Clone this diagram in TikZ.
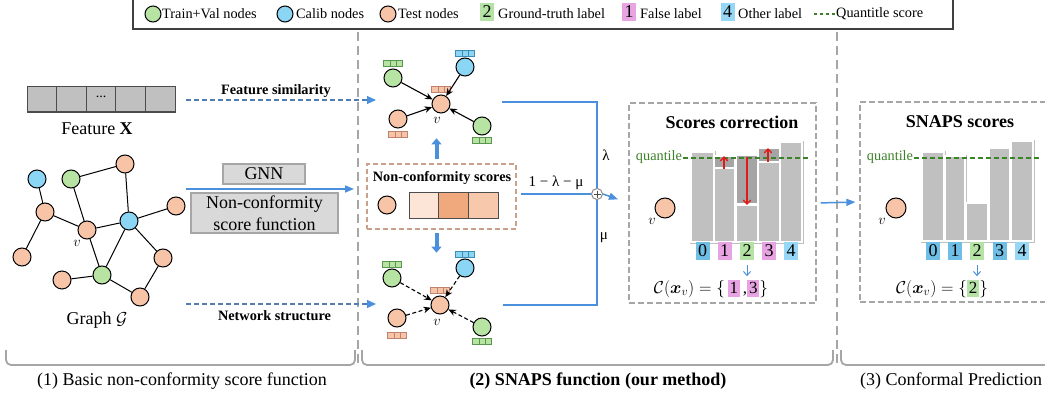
\documentclass[tikz,border=0pt]{standalone}
\usepackage{amsmath,bm}
\usepackage{fontspec}
\setmainfont{Liberation Serif}
\usetikzlibrary{arrows.meta,calc}
\definecolor{gnode}{RGB}{183,228,163}
\definecolor{bnode}{RGB}{140,214,245}
\definecolor{onode}{RGB}{248,196,168}
\definecolor{glab}{RGB}{181,227,165}
\definecolor{plab}{RGB}{232,163,226}
\definecolor{blab}{RGB}{110,190,230}
\definecolor{lblab}{RGB}{150,215,245}
\definecolor{barg}{RGB}{192,192,192}
\definecolor{bard}{RGB}{165,165,165}
\definecolor{arrb}{RGB}{74,144,220}
\definecolor{dashb}{RGB}{80,125,180}
\definecolor{divg}{RGB}{166,166,166}
\definecolor{qgreen}{RGB}{60,130,40}
\definecolor{sboxc}{RGB}{200,160,140}
\definecolor{redA}{RGB}{225,25,25}
\definecolor{cellA}{RGB}{252,228,214}
\definecolor{cellB}{RGB}{240,168,125}
\definecolor{cellC}{RGB}{247,200,172}
\definecolor{boxg}{RGB}{217,217,217}
\definecolor{gbar}{RGB}{90,150,80}
\definecolor{bbar}{RGB}{60,140,180}
\definecolor{obar}{RGB}{190,130,110}
\newcommand\labbar[4]{%
  \draw[fill=#3, draw=#4, line width=0.6pt] (#1-9.5,#2-3) rectangle (#1+9.5,#2+3);
  \draw[#4, line width=0.6pt] (#1-3.2,#2-3) -- (#1-3.2,#2+3) (#1+3.2,#2-3) -- (#1+3.2,#2+3);}
\newcommand\inbox[2]{{\setlength{\fboxsep}{0.6pt}\colorbox{#1}{\rule[-3.5pt]{0pt}{16pt}\makebox[11pt]{#2}}}}
\begin{document}
\begin{tikzpicture}[x=1pt,y=-1pt,
  nodeG/.style={circle, draw=black, line width=1pt, minimum size=18pt, inner sep=0pt, fill=gnode},
  nodeB/.style={nodeG, fill=bnode},
  nodeO/.style={nodeG, fill=onode},
  gedge/.style={line width=1pt, black},
  sarrow/.style={-{Stealth[length=7.5pt,width=6.5pt]}, line width=1.1pt},
  darrow/.style={sarrow, dash pattern=on 4pt off 2.5pt},
  bluearrow/.style={arrb, line width=1.5pt, -{Triangle[length=9pt,width=7pt]}},
  dasharrow/.style={dashb, line width=1.3pt, dash pattern=on 5pt off 3pt, -{Triangle[length=9pt,width=8pt,fill=arrb,color=arrb]}},
  thickarrow/.style={arrb, line width=4pt, -{Triangle[length=6pt,width=10pt]}},
  smallarrow/.style={arrb, line width=1pt, -{Straight Barb[length=4pt,width=7pt]}},
  redarrow/.style={redA, line width=1.3pt, -{Straight Barb[length=4pt,width=7.5pt]}},
  bline/.style={arrb, line width=1.5pt},
  divider/.style={divg, line width=2pt, dash pattern=on 9pt off 5pt},
  bracket/.style={divg, line width=1.8pt, rounded corners=5pt},
  dashbox/.style={draw=divg, line width=1.3pt, dash pattern=on 6pt off 3pt},
  outl/.style={draw=black!25, line width=0.8pt, fill=white},
  labbox/.style={minimum width=14pt, minimum height=18pt, inner sep=0pt, font=\fontsize{18}{18}\selectfont},
  leg/.style={anchor=west, inner sep=0pt, font=\fontsize{14.3}{16}\selectfont},
  fbig/.style={font=\fontsize{18}{22}\selectfont},
  fbold/.style={font=\fontsize{14.3}{16}\selectfont\bfseries},
  vlab/.style={font=\fontsize{15}{15}\selectfont, inner sep=0pt},
  gbox/.style={fill=boxg, draw=divg, line width=1.2pt, inner sep=0pt, font=\fontsize{18}{22}\selectfont, align=center}
]
\useasboundingbox (0,0) rectangle (1045,396);
\fill[white] (0,0) rectangle (1045,396);

% ---------- legend ----------
\draw[black!75, line width=1.2pt] (133,-2) rectangle (953,29);
\node[nodeG, minimum size=16pt] (lg) at (153,14) {};
\node[leg] (lgt) at (162,14) {Train+Val nodes};
\node[nodeB, minimum size=16pt] (lb) at (285,14) {};
\node[leg] (lbt) at (296,14) {Calib nodes};
\node[nodeO, minimum size=16pt] (lo) at (388,14) {};
\node[leg] (lot) at (398,14) {Test nodes};
\node[labbox, fill=glab] (l2) at (487,12) {2};
\node[leg] (l2t) at (498,14) {Ground-truth label};
\node[labbox, fill=plab] (l1) at (629,12) {1};
\node[leg] (l1t) at (640,14) {False label};
\node[labbox, fill=lblab] (l4) at (727.5,12) {4};
\node[leg] (l4t) at (738,14) {Other label};
\coordinate (lq0) at (814,14);
\coordinate (lq1) at (835,14);
\draw[qgreen, line width=1.2pt, dash pattern=on 3pt off 3pt] (lq0) -- (lq1);
\node[leg] (lqt) at (836,14) {Quantitle score};

% ---------- dividers and brackets ----------
\draw[divider] (358,32) -- (358,364);
\draw[divider] (837,32) -- (837,364);
\draw[bracket] (6,350) -- (6,365) -- (355,365) -- (355,350);
\draw[bracket] (362,350) -- (362,365) -- (833,365) -- (833,350);
\draw[bracket] (841,350) -- (841,365) -- (1060,365);
\node[fbig] (cap1) at (182,381) {(1) Basic non-conformity score function};
\node[fbig, font=\fontsize{18}{22}\selectfont\bfseries] (cap2) at (598,381) {(2) SNAPS function (our method)};
\node[fbig] (cap3) at (951,381) {(3) Conformal Prediction};

% ---------- section 1 ----------
\foreach \i in {0,...,4} {
  \draw[fill=barg, draw=black!70, line width=1pt] (27+29.6*\i,87) rectangle (27+29.6*\i+29.6,112);
}
\node[font=\fontsize{14}{14}\selectfont] (dots) at (101,97) {...};
\node[fbig] (featx) at (97,129) {Feature \textbf{X}};

\coordinate (fs0) at (186,100);
\coordinate (fs1) at (376,100);
\draw[dasharrow] (fs0) -- (fs1);
\node[fbold] (fslab) at (276,91) {Feature similarity};

\node[gbox, minimum width=82pt, minimum height=20pt] (gnn) at (264,174) {GNN};
\coordinate (ga0) at (186,189);
\coordinate (ga1) at (354,189);
\draw[bluearrow] (ga0) -- (ga1);
\node[gbox, minimum width=147pt, minimum height=40pt, font=\fontsize{18}{21.5}\selectfont] (ncsf) at (264.5,213) {Non-conformity\\score function};

\coordinate (ns0) at (186,304);
\coordinate (ns1) at (376,304);
\draw[dasharrow] (ns0) -- (ns1);
\node[fbold] (nslab) at (274.5,316) {Network structure};

% graph G
\node[nodeB] (g1) at (37,179) {};
\node[nodeG] (g2) at (71,179) {};
\node[nodeO] (g3) at (125,164) {};
\node[nodeO] (g4) at (45,212) {};
\node[nodeO] (gv) at (87,230) {};
\node[nodeB] (g5) at (129,221) {};
\node[nodeO] (g6) at (176,206) {};
\node[nodeO] (g7) at (22,257) {};
\node[nodeG] (g8) at (102,275) {};
\node[nodeO] (g9) at (62,280) {};
\node[nodeO] (g10) at (163,258) {};
\node[nodeO] (g11) at (140,297) {};
\node[vlab] (gvl) at (77,243) {$v$};
\foreach \a/\b in {g1/g4, g4/g7, g4/gv, g2/g3, g2/gv, g3/g5, gv/g5, g5/g6, g5/g8, g5/g10, gv/g8, g8/g9, g8/g11, g10/g11}
  \draw[gedge] (\a) -- (\b);
\node[fbig] (graphlab) at (97,320) {Graph $\mathcal{G}$};

% ---------- section 2 ----------
% top subgraph
\node[nodeO] (tc) at (441,104) {};
\node[nodeG] (tg1) at (393,78) {};
\node[nodeB] (tb) at (465,67) {};
\node[nodeO] (to) at (398,119) {};
\node[nodeG] (tg2) at (482,126) {};
\labbar{393}{63}{gnode}{gbar}
\labbar{465}{53}{bnode}{bbar}
\labbar{441}{89}{onode}{obar}
\labbar{398}{134}{onode}{obar}
\labbar{482}{140}{gnode}{gbar}
\node[vlab] (tvl) at (437,120) {$v$};
\foreach \a in {tg1,tb,to,tg2} \draw[sarrow] (\a) -- (tc);

% bottom subgraph
\node[nodeO] (bc) at (440,305) {};
\node[nodeG] (bg1) at (392,278) {};
\node[nodeB] (bb) at (465,268) {};
\node[nodeO] (bo) at (397,318) {};
\node[nodeG] (bg2) at (482,327) {};
\labbar{392}{264}{gnode}{gbar}
\labbar{465}{254}{bnode}{bbar}
\labbar{440}{290}{onode}{obar}
\labbar{397}{335}{onode}{obar}
\labbar{482}{341}{gnode}{gbar}
\node[vlab] (bvl) at (437,322) {$v$};
\foreach \a in {bg1,bb,bo,bg2} \draw[darrow] (\a) -- (bc);

% non-conformity scores box
\node[draw=sboxc, line width=1.3pt, dash pattern=on 5pt off 3pt, minimum width=149pt, minimum height=65pt, inner sep=0pt] (nc) at (441.5,196.5) {};
\node[fbold] (nctitle) at (442,178) {Non-conformity scores};
\node[nodeO] (ncv) at (387,205) {};
\draw[fill=cellA, draw=black!70, line width=1pt] (409,192) rectangle (438.7,218);
\draw[fill=cellB, draw=black!70, line width=1pt] (438.7,192) rectangle (468.3,218);
\draw[fill=cellC, draw=black!70, line width=1pt] (468.3,192) rectangle (498,218);
\draw[thickarrow] ([xshift=-5pt,yshift=4pt]nc.north) -- ++(0,-21);
\draw[thickarrow] ([xshift=-5pt,yshift=-3pt]nc.south) -- ++(0,20);

% combination
\node[circle, draw=black!45, fill=white, line width=1pt, minimum size=11pt, inner sep=0pt] (plus) at (597,194) {};
\draw[black!70, line width=0.8pt] ($(plus.center)+(-3.5,0)$) -- ($(plus.center)+(3.5,0)$) ($(plus.center)+(0,-3.5)$) -- ($(plus.center)+(0,3.5)$);
\coordinate (topout) at (502,102);
\coordinate (botout) at (503,305);
\draw[bline] (topout) -| (plus.north);
\draw[bline] (botout) -| (plus.south);
\draw[bline, shorten <=4pt] (nc.east |- plus) -- (plus.west);
\node[font=\fontsize{15}{15}\selectfont] (lam) at (606,155) {λ};
\node[font=\fontsize{15}{15}\selectfont] (lmm) at (556,183) {1 − λ − μ};
\node[font=\fontsize{15}{15}\selectfont] (mu) at (604,238) {μ};

% scores correction box
\node[dashbox, minimum width=187pt, minimum height=200pt, inner sep=0pt] (sc) at (722.5,203) {};
\draw[bluearrow, shorten >=11pt] (plus.east) -- (sc.west);
\node[fbig, font=\fontsize{18}{22}\selectfont\bfseries] (sctitle) at (732,122) {Scores correction};
\node[nodeO, minimum size=20pt] (scv) at (665,208) {};
\node[vlab] (scvl) at (652,221) {$v$};
\foreach \a/\b/\t in {692/713/153, 715/734/157, 737/757/156, 759/779/149, 781/801/143}
  \draw[outl] (\a-2,\t-2) rectangle (\b+2,243);
\foreach \a/\b/\t in {692/713/153, 715/734/157, 737/757/156, 759/779/149, 781/801/143}
  \fill[white] (\a-1.6,\t-1.6) rectangle (\b+1.6,242.6);
\foreach \a/\b/\t in {692/713/153, 715/734/169, 737/757/206, 759/779/163, 781/801/143}
  \fill[barg] (\a,\t) rectangle (\b,241);
\foreach \a/\b/\t/\u in {715/734/157/167, 737/757/156/203, 759/779/149/161}
  \fill[bard] (\a,\t) rectangle (\b,\u);
\node[font=\fontsize{14.3}{15}\selectfont, text=qgreen] (scq) at (659,157) {quantile};
\coordinate (scq0) at (683,158);
\coordinate (scq1) at (809,158);
\draw[qgreen, line width=1.2pt, dash pattern=on 5pt off 3pt] (scq0) -- (scq1);
\coordinate (r1a) at (724,169); \coordinate (r1b) at (724,156);
\coordinate (r2a) at (747,157); \coordinate (r2b) at (747,205);
\coordinate (r3a) at (768,162); \coordinate (r3b) at (768,148);
\draw[redarrow] (r1a) -- (r1b);
\draw[redarrow] (r2a) -- (r2b);
\draw[redarrow] (r3a) -- (r3b);
\node[labbox, fill=blab] (sc0) at (702.5,251) {0};
\node[labbox, fill=plab] (sc1) at (724.5,251) {1};
\node[labbox, fill=glab] (sc2) at (747,251) {2};
\node[labbox, fill=plab] (sc3) at (769,251) {3};
\node[labbox, fill=lblab] (sc4) at (791,251) {4};
\draw[smallarrow] ([yshift=-5pt]sc2.south) -- ++(0,11);
\node[font=\fontsize{17}{20}\selectfont] (scset) at (711,289) {$\mathcal{C}(\bm{x}_v)=\{\,$\inbox{plab}{1}\,,\inbox{plab}{3}$\}$};

% ---------- section 3 ----------
\node[dashbox, minimum width=200pt, minimum height=200pt, inner sep=0pt] (snaps) at (960,202) {};
\draw[bluearrow, shorten <=4pt, shorten >=4pt] (sc.east) -- (snaps.west);
\node[fbig, font=\fontsize{18}{22}\selectfont\bfseries] (sntitle) at (960,122) {SNAPS scores};
\node[nodeO, minimum size=20pt] (snv) at (896,208) {};
\node[vlab] (snvl) at (882,221) {$v$};
\foreach \a/\b/\t in {923/943/153, 946/964/157, 967/987/204, 990/1009/149, 1012/1032/142}
  \draw[outl] (\a-2,\t-2) rectangle (\b+2,242);
\foreach \a/\b/\t in {923/943/153, 946/964/157, 967/987/204, 990/1009/149, 1012/1032/142}
  \fill[white] (\a-1.6,\t-1.6) rectangle (\b+1.6,241.6);
\foreach \a/\b/\t in {923/943/153, 946/964/157, 967/987/204, 990/1009/149, 1012/1032/142}
  \fill[barg] (\a,\t) rectangle (\b,240);
\node[font=\fontsize{14.3}{15}\selectfont, text=qgreen] (snq) at (890,157) {quantile};
\coordinate (snq0) at (914,158);
\coordinate (snq1) at (1040,158);
\draw[qgreen, line width=1.2pt, dash pattern=on 5pt off 3pt] (snq0) -- (snq1);
\node[labbox, fill=blab] (sn0) at (933,251) {0};
\node[labbox, fill=blab] (sn1) at (955,251) {1};
\node[labbox, fill=glab] (sn2) at (977,251) {2};
\node[labbox, fill=blab] (sn3) at (999.5,251) {3};
\node[labbox, fill=lblab] (sn4) at (1022,251) {4};
\draw[smallarrow] ([yshift=-5pt]sn2.south) -- ++(0,11);
\node[font=\fontsize{17}{20}\selectfont] (snset) at (942,289) {$\mathcal{C}(\bm{x}_v)=\{$\inbox{glab}{2}$\}$};
\end{tikzpicture}
\end{document}
